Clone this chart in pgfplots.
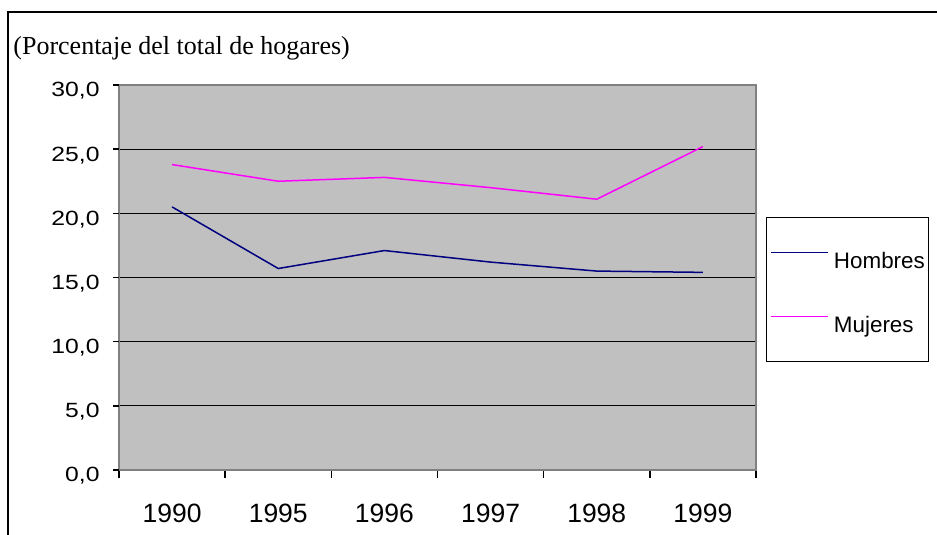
\documentclass[border=0pt]{standalone}
\usepackage{pgfplots}
\pgfplotsset{compat=1.18}
\usepackage{fontspec}
\setmainfont{Liberation Sans}
\newfontfamily\seriffont{Liberation Serif}
\definecolor{plotgray}{HTML}{C0C0C0}
\definecolor{bordergray}{HTML}{808080}
\definecolor{hombres}{HTML}{000080}
\definecolor{mujeres}{HTML}{FF00FF}
\begin{document}
\begin{tikzpicture}
\path[use as bounding box] (0,0) rectangle (468.5pt,267.5pt);
\draw[line width=1pt] (4pt,0pt) -- (4pt,261.5pt) -- (468.5pt,261.5pt);
\node[anchor=base west, inner sep=0pt, font=\seriffont\fontsize{13.0}{16}\selectfont] at (6.5pt,240pt) {(Porcentaje del total de hogares)};
\begin{axis}[
  at={(59.5pt,32.5pt)}, anchor=south west,
  scale only axis, width=318.5pt, height=192.5pt,
  xmin=-0.5, xmax=5.5, ymin=0, ymax=30,
  axis background/.style={fill=plotgray},
  axis line style={draw=bordergray, line width=0.75pt},
  xtick={0,1,2,3,4,5},
  xticklabels={1990,1995,1996,1997,1998,1999},
  minor xtick={-0.5,0.5,1.5,2.5,3.5,4.5,5.5},
  major tick length=0pt,
  minor tick length=4pt,
  xtick pos=bottom, ytick pos=left,
  tick align=outside,
  ytick={0,5,10,15,20,25,30},
  extra y ticks={0,5,10,15,20,25,30},
  extra y tick labels={},
  extra y tick style={major tick length=3pt, grid=none, tick style={black, line width=0.75pt}},
  ymajorgrids,
  major grid style={black, line width=0.6pt},
  minor tick style={black, line width=0.75pt},
  xticklabel style={anchor=base, inner sep=0pt, yshift=-26.5pt, font=\fontsize{13.25}{15}\selectfont},
  yticklabel style={anchor=base east, inner sep=0pt, xshift=-9.5pt, yshift=-6pt, font=\fontsize{10.3}{12}\selectfont},
  yticklabel={\scalebox{1.2}[1]{\pgfmathprintnumber[fixed,fixed zerofill,precision=1,use comma,assume math mode=true]{\tick}}},
  legend cell align=left,
  legend style={at={(1.0157,0.6571)}, anchor=north west, draw=black, line width=0.5pt, fill=white,
    inner xsep=2pt, inner ysep=14.5pt, row sep=21pt,
    nodes={inner sep=0pt, text height=11pt, text depth=0pt, font=\fontsize{11.2}{13}\selectfont}},
  legend image code/.code={\draw[#1] (0pt,2.4pt) -- (28.5pt,2.4pt);},
]
\addplot[hombres, line width=0.75pt] coordinates {(0,20.5) (1,15.7) (2,17.1) (3,16.2) (4,15.5) (5,15.4)};
\addlegendentry{\hspace{2.5pt}Hombres}
\addplot[mujeres, line width=0.75pt] coordinates {(0,23.8) (1,22.5) (2,22.8) (3,22.0) (4,21.1) (5,25.2)};
\addlegendentry{\hspace{2.5pt}Mujeres}
\end{axis}
\end{tikzpicture}
\end{document}
